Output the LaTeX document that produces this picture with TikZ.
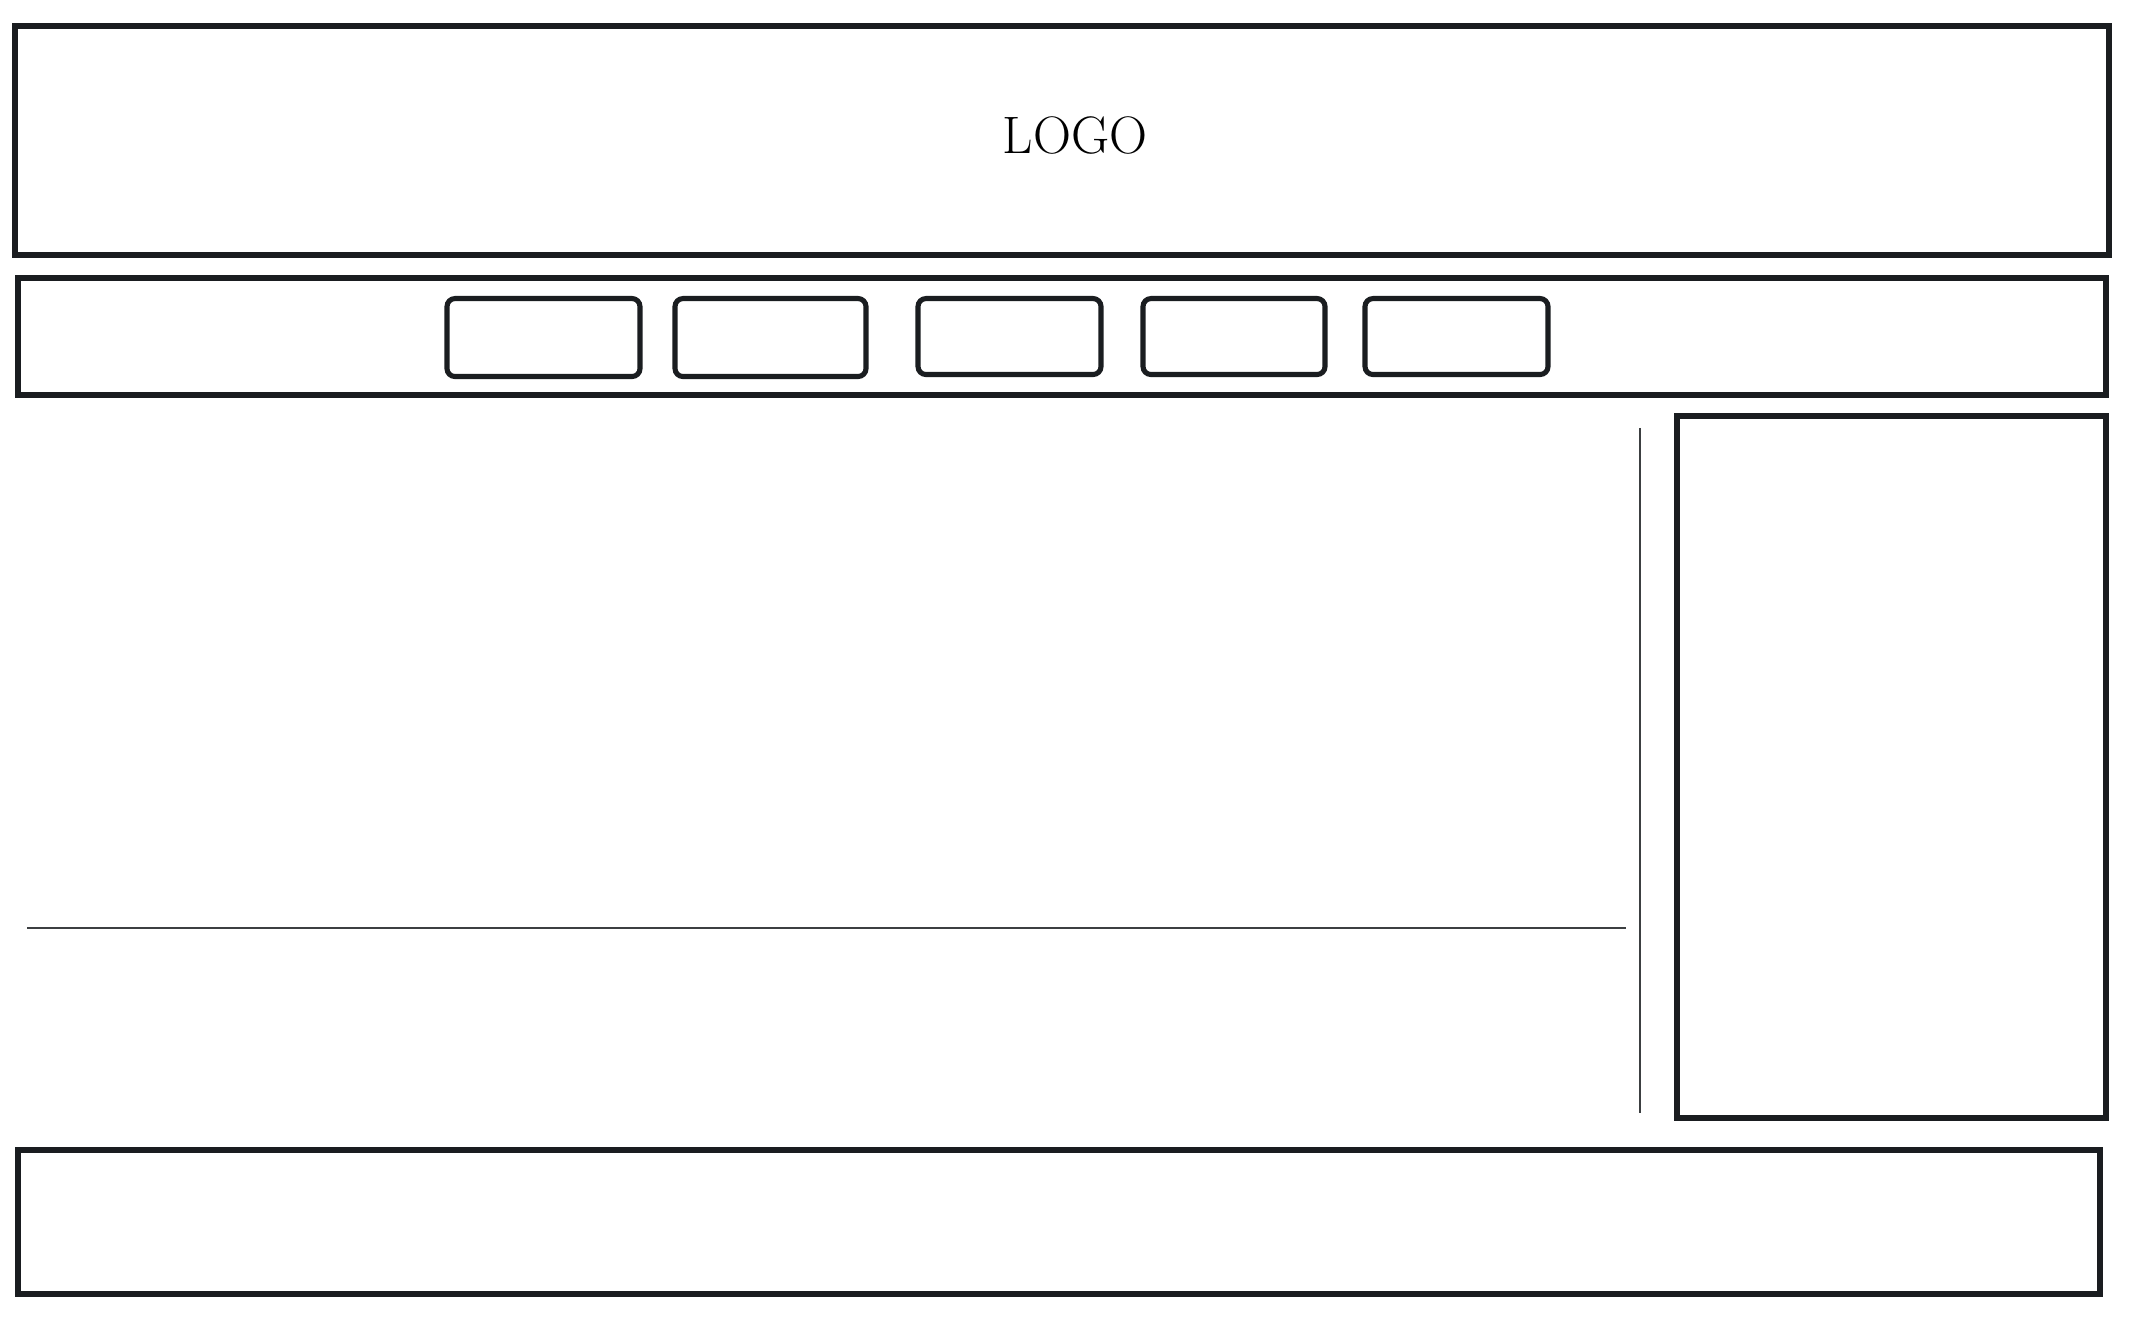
\documentclass[tikz,border=0pt]{standalone}
\definecolor{inkc}{RGB}{26,29,32}

\begin{document}
\begin{tikzpicture}[
  box/.style={draw=inkc, line width=1.7pt, inner sep=0pt},
  navbtn/.style={draw=inkc, line width=1.45pt, rounded corners=0.8mm, inner sep=0pt},
  rule/.style={draw=inkc!85, line width=0.4pt}
]
  \useasboundingbox (0, 0) rectangle (21.33, 13.24);

  \node[box, minimum width=20.94cm, minimum height=2.29cm] (header) at (10.62, 11.835) {};
  \node (logo) at (10.75, 11.88) {\fontsize{15}{15}\selectfont LOGO};

  \node[box, minimum width=20.88cm, minimum height=1.17cm] (nav) at (10.62, 9.875) {};
  \foreach \x/\w/\h [count=\i] in {5.435/1.93/0.78, 7.705/1.91/0.78, 10.095/1.83/0.76, 12.34/1.82/0.76, 14.565/1.83/0.76} {
    \node[navbtn, minimum width=\w cm, minimum height=\h cm, anchor=north] (btn\i) at (\x, 10.28) {};
  }

  \node[box, minimum width=4.29cm, minimum height=7.02cm] (side) at (18.915, 5.57) {};
  \node[box, minimum width=20.82cm, minimum height=1.44cm] (footer) at (10.59, 1.02) {};

  \coordinate (hl1) at (0.27, 3.96);
  \coordinate (hl2) at (16.26, 3.96);
  \coordinate (vl1) at (16.40, 8.96);
  \coordinate (vl2) at (16.40, 2.11);
  \draw[rule] (hl1) -- (hl2);
  \draw[rule] (vl1) -- (vl2);
\end{tikzpicture}
\end{document}
